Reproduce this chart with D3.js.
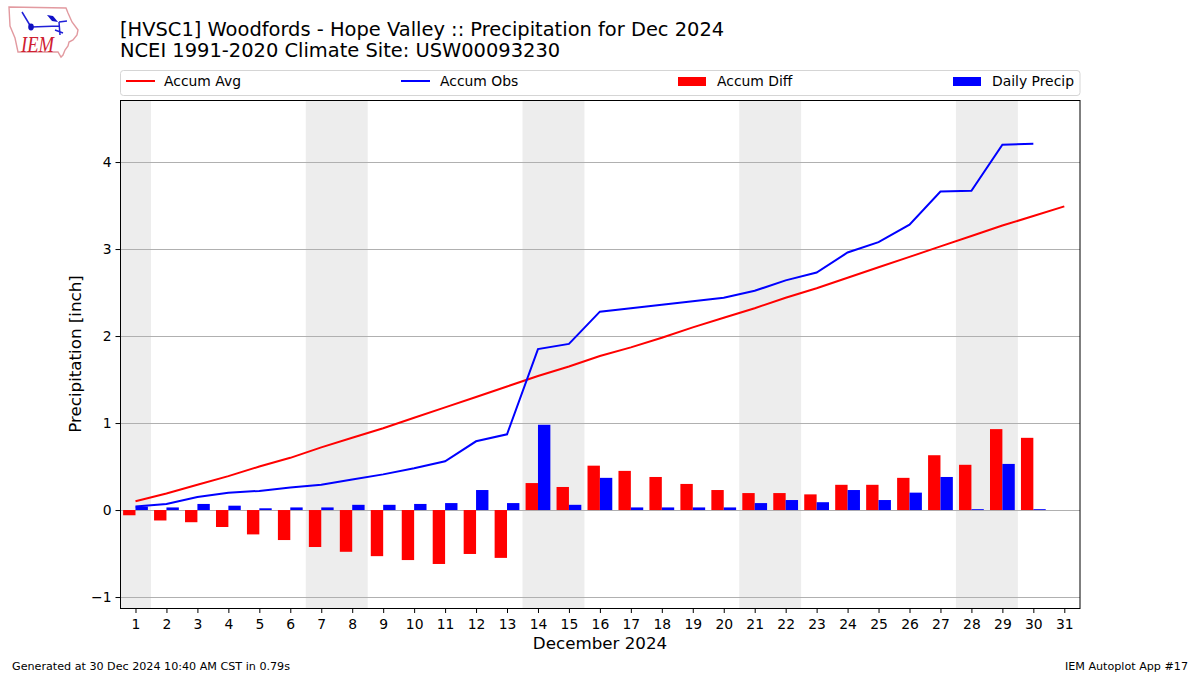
<!DOCTYPE html>
<html><head><meta charset="utf-8">
<script src="https://cdn.jsdelivr.net/npm/d3@7"></script>
<style>
html,body{margin:0;padding:0;background:#fff}
svg{display:block}
text{font-family:"DejaVu Sans",sans-serif;fill:#000}
</style></head><body>
<svg id="c" width="1200" height="675"></svg>
<script>
const days = d3.range(1, 32);
const accumAvg = [0.10,0.19,0.29,0.39,0.50,0.60,0.72,0.83,0.94,1.06,1.18,1.30,1.42,1.54,1.65,1.77,1.87,1.98,2.10,2.21,2.32,2.44,2.55,2.67,2.79,2.91,3.03,3.15,3.27,3.38,3.49];
const accumObs = [0.04,0.07,0.15,0.20,0.22,0.26,0.29,0.35,0.41,0.48,0.56,0.79,0.87,1.85,1.91,2.28,2.32,2.36,2.40,2.44,2.52,2.64,2.73,2.96,3.08,3.28,3.66,3.67,4.20,4.21];
const accumDiff = [-0.06,-0.12,-0.14,-0.195,-0.28,-0.345,-0.425,-0.48,-0.53,-0.575,-0.62,-0.505,-0.55,0.31,0.265,0.51,0.45,0.38,0.30,0.23,0.195,0.195,0.18,0.29,0.29,0.37,0.63,0.52,0.93,0.83];
const dailyPrecip = [0.04,0.03,0.07,0.05,0.02,0.03,0.03,0.06,0.06,0.07,0.08,0.23,0.08,0.98,0.06,0.37,0.03,0.03,0.03,0.03,0.08,0.115,0.09,0.23,0.115,0.20,0.38,0.01,0.53,0.01];
const weekendDays = [[0.5,1.5],[6.5,8.5],[13.5,15.5],[20.5,22.5],[27.5,29.5]];
const yTicks = [-1,0,1,2,3,4];
const titleLines = ["[HVSC1] Woodfords - Hope Valley :: Precipitation for Dec 2024","NCEI 1991-2020 Climate Site: USW00093230"];
const legendItems = [["Accum Avg","line","#ff0000"],["Accum Obs","line","#0000ff"],["Accum Diff","bar","#ff0000"],["Daily Precip","bar","#0000ff"]];

const L=120.5,R=1080,T=100,B=608;
const svg=d3.select("#c");
const x=d3.scaleLinear().domain([0.532,31.507]).range([121,1080]);
const y=d3.scaleLinear().domain([-1.126,4.713]).range([B,T]);
const bw=x(0.4)-x(0);
const crisp=v=>Math.floor(v)+0.5;

// logo
const logo=svg.append("g");
logo.append("path").attr("d","M9 7 L66 8 L68 13 L72 22 L78 30 L77 35 L73 40 L69 42 L68 46 L65 50 L63 55 L61 57 L58 52 L18 52 L15 38 L10 26 Z").attr("fill","#fff").attr("stroke","#e29aa0").attr("stroke-width",1.4);
logo.append("path").attr("d","M22 12 L31 27 M31 27 L59 26 M59 22 L67 21 M59 22 L60 35 M55 30 L63 33").attr("fill","none").attr("stroke","#2020d8").attr("stroke-width",1.5);
logo.append("path").attr("d","M47 15 L53 16 L58 22 L52 21 Z").attr("fill","#1010c8");
logo.append("ellipse").attr("cx",31).attr("cy",27).attr("rx",2.8).attr("ry",3.4).attr("fill","#1010c0");
logo.append("text").attr("x",21).attr("y",52).attr("font-size",23).attr("textLength",33).attr("lengthAdjust","spacingAndGlyphs").style("font-family","'Liberation Serif',serif").style("font-style","italic").style("fill","#cf2030").text("IEM");

// titles
svg.selectAll("text.t").data(titleLines).join("text").attr("class","t").attr("x",120).attr("y",(d,i)=>36+i*21).attr("font-size",19.45).text(d=>d);

// legend
const lg=svg.append("g");
lg.append("rect").attr("x",120.5).attr("y",70.5).attr("width",959.5).attr("height",25).attr("rx",3).attr("fill","#fff").attr("stroke","#d5d5d5");
const itemX=[126,401,678,953], textX=[164,440,717,992];
legendItems.forEach((it,i)=>{
  if(it[1]==="line") lg.append("line").attr("x1",itemX[i]).attr("x2",itemX[i]+29).attr("y1",81).attr("y2",81).attr("stroke",it[2]).attr("stroke-width",2);
  else lg.append("rect").attr("x",itemX[i]).attr("y",77).attr("width",28).attr("height",9).attr("fill",it[2]);
  lg.append("text").attr("x",textX[i]).attr("y",86).attr("font-size",13.9).text(it[0]);
});

// plot
svg.append("clipPath").attr("id","pc").append("rect").attr("x",L).attr("y",T).attr("width",R-L).attr("height",B-T);
const g=svg.append("g").attr("clip-path","url(#pc)");
g.selectAll("rect.wk").data(weekendDays).join("rect").attr("class","wk")
 .attr("x",d=>x(d[0])).attr("width",d=>x(d[1])-x(d[0]))
 .attr("y",T).attr("height",B-T).attr("fill","#ededed");
g.selectAll("line.grid").data(yTicks).join("line").attr("class","grid")
 .attr("x1",L).attr("x2",R).attr("y1",d=>crisp(y(d))).attr("y2",d=>crisp(y(d))).attr("stroke","#b0b0b0").attr("stroke-width",1);
g.selectAll("rect.diff").data(accumDiff).join("rect").attr("class","diff")
 .attr("x",(d,i)=>x(days[i]-0.4)).attr("width",bw)
 .attr("y",d=>Math.min(y(d),y(0))).attr("height",d=>Math.abs(y(d)-y(0))).attr("fill","#ff0000");
g.selectAll("rect.daily").data(dailyPrecip).join("rect").attr("class","daily")
 .attr("x",(d,i)=>x(days[i])).attr("width",bw)
 .attr("y",d=>y(d)).attr("height",d=>y(0)-y(d)).attr("fill","#0000ff");
const line=d3.line().x((d,i)=>x(days[i])).y(d=>y(d));
g.append("path").attr("d",line(accumAvg)).attr("fill","none").attr("stroke","#ff0000").attr("stroke-width",2);
g.append("path").attr("d",line(accumObs)).attr("fill","none").attr("stroke","#0000ff").attr("stroke-width",2);

// axes
const ax=svg.append("g").attr("transform",`translate(0,${B})`).call(d3.axisBottom(x).tickValues(days).tickFormat(d3.format("d")).tickSizeOuter(0).tickSize(5).tickPadding(6));
const ay=svg.append("g").attr("transform",`translate(${L},0)`).call(d3.axisLeft(y).tickValues(yTicks).tickFormat(d=>d<0?"\u2212"+Math.abs(d):d).tickSizeOuter(0).tickSize(5).tickPadding(4));
[ax,ay].forEach(a=>{a.select(".domain").remove();a.selectAll("text").attr("font-size",13.9).style("font-family","'DejaVu Sans',sans-serif").attr("fill","#000");a.selectAll("line").attr("stroke","#000").attr("stroke-width",1);});
svg.append("rect").attr("x",120.5).attr("y",100.5).attr("width",959.5).attr("height",508).attr("fill","none").attr("stroke","#000").attr("stroke-width",1);

svg.append("text").attr("x",600).attr("y",649).attr("text-anchor","middle").attr("font-size",16.7).text("December 2024");
svg.append("text").attr("transform","translate(81,354) rotate(-90)").attr("text-anchor","middle").attr("font-size",16.7).text("Precipitation [inch]");
svg.append("text").attr("x",12).attr("y",670).attr("font-size",11.15).text("Generated at 30 Dec 2024 10:40 AM CST in 0.79s");
svg.append("text").attr("x",1188).attr("y",670).attr("text-anchor","end").attr("font-size",11.15).text("IEM Autoplot App #17");
</script></body></html>
